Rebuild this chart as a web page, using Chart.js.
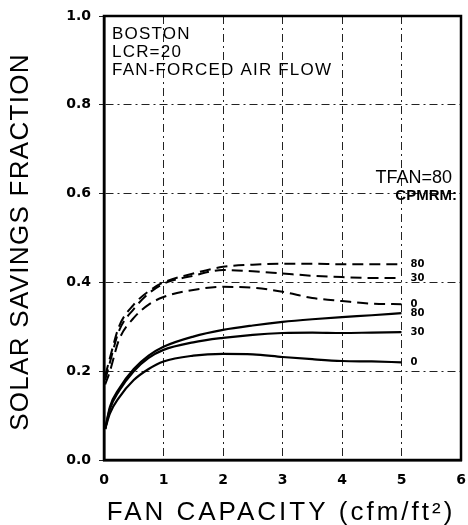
<!DOCTYPE html>
<html>
<head>
<meta charset="utf-8">
<script src="https://cdn.jsdelivr.net/npm/chart.js@4.4.0/dist/chart.umd.min.js"></script>
<style>
  html, body { margin: 0; padding: 0; background: #fff; }
  #wrap { width: 468px; height: 525px; }
</style>
</head>
<body>
<div id="wrap"><canvas id="ssfChart"></canvas></div>
<script>
// fan capacity (cfm/ft2) sample points
const fanCap = [0.02, 0.1, 0.25, 0.5, 0.75, 1, 1.5, 2, 2.5, 3, 3.5, 4, 4.5, 5];

// dashed curves (upper family)
const dash80 = [0.19, 0.23, 0.30, 0.35, 0.38, 0.40, 0.42, 0.435, 0.44, 0.442, 0.442, 0.441, 0.441, 0.441];
const dash30 = [0.18, 0.22, 0.29, 0.34, 0.375, 0.397, 0.415, 0.428, 0.425, 0.42, 0.415, 0.412, 0.41, 0.41];
const dash0  = [0.17, 0.20, 0.27, 0.32, 0.35, 0.367, 0.383, 0.39, 0.388, 0.379, 0.365, 0.358, 0.352, 0.351];

// solid curves (lower family)
const solid80 = [0.07, 0.12, 0.16, 0.205, 0.235, 0.255, 0.278, 0.293, 0.303, 0.311, 0.317, 0.322, 0.326, 0.331];
const solid30 = [0.07, 0.115, 0.155, 0.20, 0.23, 0.248, 0.265, 0.275, 0.282, 0.286, 0.287, 0.286, 0.287, 0.288];
const solid0  = [0.07, 0.105, 0.14, 0.18, 0.205, 0.222, 0.235, 0.239, 0.238, 0.232, 0.227, 0.223, 0.222, 0.22];

const curveLabels = ['80', '30', '0', '80', '30', '0'];
const xTicks = [0, 1, 2, 3, 4, 5, 6];
const yTicks = [0.0, 0.2, 0.4, 0.6, 0.8, 1.0];
const noteLines = ['BOSTON', 'LCR=20', 'FAN-FORCED AIR FLOW'];

function toPoints(ys) {
    return ys.map((y, i) => ({ x: fanCap[i], y: y }));
}

function makeSet(name, ys, dashed) {
    return {
        label: name,
        data: toPoints(ys),
        borderColor: '#000',
        borderWidth: dashed ? 2 : 2.2,
        borderDash: dashed ? [11, 6] : [],
        pointRadius: 0,
        fill: false,
        cubicInterpolationMode: 'monotone'
    };
}

const series = [
    makeSet('dash80', dash80, true),
    makeSet('dash30', dash30, true),
    makeSet('dash0', dash0, true),
    makeSet('solid80', solid80, false),
    makeSet('solid30', solid30, false),
    makeSet('solid0', solid0, false)
];

// frame, notes, curve labels and axis titles
const extras = {
    id: 'extras',
    afterDatasetsDraw(chart) {
        const ctx = chart.ctx;
        const a = chart.chartArea;
        const xs = chart.scales.x, ys = chart.scales.y;
        ctx.save();
        ctx.strokeStyle = '#000';
        ctx.lineWidth = 2.5;
        ctx.strokeRect(a.left, a.top, a.right - a.left, a.bottom - a.top);

        ctx.fillStyle = '#000';
        ctx.textBaseline = 'alphabetic';
        ctx.textAlign = 'left';
        ctx.font = '17px "Liberation Sans", sans-serif';
        ctx.letterSpacing = '1.2px';
        noteLines.forEach((t, i) => ctx.fillText(t, a.left + 8, a.top + 23 + i * 18));

        ctx.textAlign = 'right';
        ctx.font = '18px "Liberation Sans", sans-serif';
        ctx.letterSpacing = '0px';
        ctx.fillText('TFAN=80', a.right - 9, ys.getPixelForValue(0.625));
        ctx.font = 'bold 15px "Liberation Sans", sans-serif';
        ctx.fillText('CPMRM:', a.right - 4, ys.getPixelForValue(0.585));

        ctx.textAlign = 'left';
        ctx.textBaseline = 'middle';
        ctx.font = 'bold 10px "DejaVu Sans", sans-serif';
        const ends = [dash80, dash30, dash0, solid80, solid30, solid0];
        ends.forEach((arr, i) => {
            ctx.fillText(curveLabels[i], xs.getPixelForValue(5.15), ys.getPixelForValue(arr[arr.length - 1]));
        });

        // axis titles
        ctx.textAlign = 'center';
        ctx.textBaseline = 'alphabetic';
        ctx.font = '26px "Liberation Sans", sans-serif';
        ctx.letterSpacing = '3px';
        ctx.fillText('FAN CAPACITY (cfm/ft\u00b2)', 281, 520);
        ctx.translate(28, 242);
        ctx.rotate(-Math.PI / 2);
        ctx.letterSpacing = '1.3px';
        ctx.fillText('SOLAR SAVINGS FRACTION', 0, 0);
        ctx.restore();
    }
};

const gridDash = [8, 4, 2, 4];

new Chart(document.getElementById('ssfChart'), {
    type: 'line',
    data: { datasets: series },
    options: {
        responsive: true,
        maintainAspectRatio: false,
        animation: false,
        layout: { padding: { top: 16, right: 7, left: 0, bottom: 0 } },
        plugins: { legend: { display: false }, tooltip: { enabled: false } },
        scales: {
            x: {
                type: 'linear',
                min: 0,
                max: 6,
                afterFit(scale) {
                    scale.height = 65;
                    scale.paddingRight = 0;
                    scale.paddingLeft = 0;
                },
                afterBuildTicks(scale) { scale.ticks = xTicks.map(v => ({ value: v })); },
                grid: { color: '#222', lineWidth: 1, drawTicks: false },
                border: { color: '#000', width: 2.5, dash: gridDash },
                ticks: {
                    color: '#000',
                    padding: 12,
                    font: { family: 'DejaVu Sans', size: 14, weight: 'bold' },
                    callback: v => String(v)
                }
            },
            y: {
                type: 'linear',
                min: 0,
                max: 1,
                afterFit(scale) {
                    scale.width = 104;
                    scale.paddingTop = 0;
                },
                afterBuildTicks(scale) { scale.ticks = yTicks.map(v => ({ value: v })); },
                grid: { color: '#222', lineWidth: 1, drawTicks: true, tickLength: 5, tickBorderDash: [] },
                border: { color: '#000', width: 2.5, dash: gridDash },
                ticks: {
                    color: '#000',
                    padding: 8,
                    font: { family: 'DejaVu Sans', size: 14, weight: 'bold' },
                    callback: v => v.toFixed(1)
                }
            }
        }
    },
    plugins: [extras]
});
</script>
</body>
</html>
